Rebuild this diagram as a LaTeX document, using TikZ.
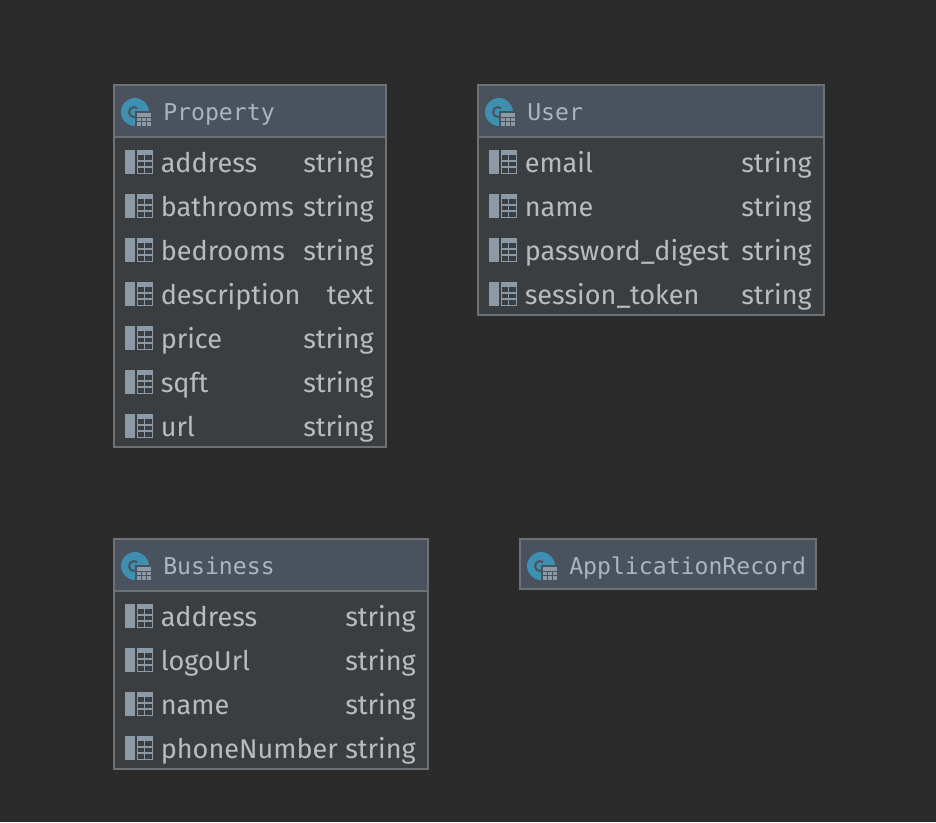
\documentclass[tikz,border=0pt]{standalone}
\usepackage{fontspec}
\setmainfont{Fira Sans}
\newfontfamily\headfont{DejaVu Sans Mono}
\usetikzlibrary{calc}
\definecolor{canvas}{HTML}{2B2B2B}
\definecolor{headfill}{HTML}{4A525E}
\definecolor{bodyfill}{HTML}{3B3E41}
\definecolor{edge}{HTML}{6C7175}
\definecolor{fieldtext}{HTML}{BBBBBB}
\definecolor{headtext}{HTML}{A7B5C4}
\definecolor{classblue}{HTML}{3F8FB1}
\definecolor{fieldgrey}{HTML}{8B9AA6}
\tikzset{
  tablebody/.style={draw=edge,line width=1.5pt,fill=bodyfill,anchor=north west,inner sep=0pt,outer sep=0pt},
  tablehead/.style={draw=edge,line width=1pt,fill=headfill,anchor=north west,inner sep=0pt,outer sep=0pt},
  title/.style={anchor=base west,inner sep=0pt,text=headtext,font=\headfont\fontsize{17.35}{20}\selectfont},
  field/.style={anchor=base west,inner sep=0pt,text=fieldtext,font=\fontsize{20.3}{22}\selectfont},
  fieldtype/.style={anchor=base east,inner sep=0pt,text=fieldtext,font=\fontsize{20.3}{22}\selectfont},
  pics/fieldicon/.style={code={
    \fill[fieldgrey] (0,-12) rectangle (10,12);
    \fill[fieldgrey] (12,-12) rectangle (28,-7);
    \draw[fieldgrey,line width=1.1pt] (12.7,-7) -- (12.7,11.3) -- (27.3,11.3) -- (27.3,-7)
      (12,-1) -- (28,-1) (12,5) -- (28,5) (19.5,-7) -- (19.5,11);
  }},
  pics/classicon/.style={code={
    \fill[classblue] (14,0) circle (14);
    \draw[headfill,line width=1.5pt] (16.2,-3.8) arc (-50:-310:5);
    \fill[headfill] (14,-1) rectangle (32,16);
    \fill[fieldgrey] (16,1) rectangle (30,14);
    \draw[headfill,line width=.55pt] (16,5) -- (30,5) (16,9) -- (30,9)
      (20.7,5) -- (20.7,14) (25.3,5) -- (25.3,14);
  }}
}
\begin{document}
\begin{tikzpicture}[x=0.75pt,y=-0.75pt]
  \useasboundingbox (0,0) rectangle (936,822);
  \fill[canvas] (0,0) rectangle (936,822);

  % Property
  \node[tablebody,minimum width=204pt,minimum height=271.5pt] (property) at (114,85) {};
  \node[tablehead,minimum width=204pt,minimum height=39pt] (propertyhead) at (114,85) {};
  \draw[edge,line width=1.5pt] (property.north west) rectangle (property.south east);
  \pic at (121,112) {classicon};
  \node[title] (propertytitle) at (163,120) {Property};
  \foreach \y/\f/\t [count=\i] in {163/address/string,207/bathrooms/string,251/bedrooms/string,
      295/description/text,339/price/string,383/sqft/string,427/url/string} {
    \pic at (125,\y-1) {fieldicon};
    \node[field] (property-f\i) at (160.5,\y+9.5) {\f};
    \node[fieldtype] (property-t\i) at (374,\y+9.5) {\t};
  }

  % User
  \node[tablebody,minimum width=259.5pt,minimum height=172.5pt] (user) at (478,85) {};
  \node[tablehead,minimum width=259.5pt,minimum height=39pt] (userhead) at (478,85) {};
  \draw[edge,line width=1.5pt] (user.north west) rectangle (user.south east);
  \pic at (485,112) {classicon};
  \node[title] (usertitle) at (527,120) {User};
  \foreach \y/\f/\t [count=\i] in {163/email/string,207/name/string,
      251/password\_digest/string,295/session\_token/string} {
    \pic at (489,\y-1) {fieldicon};
    \node[field] (user-f\i) at (524.5,\y+9.5) {\f};
    \node[fieldtype] (user-t\i) at (812,\y+9.5) {\t};
  }

  % Business
  \node[tablebody,minimum width=235.5pt,minimum height=172.5pt] (business) at (114,539) {};
  \node[tablehead,minimum width=235.5pt,minimum height=39pt] (businesshead) at (114,539) {};
  \draw[edge,line width=1.5pt] (business.north west) rectangle (business.south east);
  \pic at (121,566) {classicon};
  \node[title] (businesstitle) at (163,574) {Business};
  \foreach \y/\f/\t [count=\i] in {617/address/string,661/logoUrl/string,
      705/name/string,749/phoneNumber/string} {
    \pic at (125,\y-1) {fieldicon};
    \node[field] (business-f\i) at (160.5,\y+9.5) {\f};
    \node[fieldtype] (business-t\i) at (416,\y+9.5) {\t};
  }

  % ApplicationRecord
  \node[tablehead,line width=1.5pt,minimum width=222pt,minimum height=37.5pt] (record) at (520,539) {};
  \pic at (527,566) {classicon};
  \node[title] (recordtitle) at (569,574) {ApplicationRecord};
\end{tikzpicture}
\end{document}
